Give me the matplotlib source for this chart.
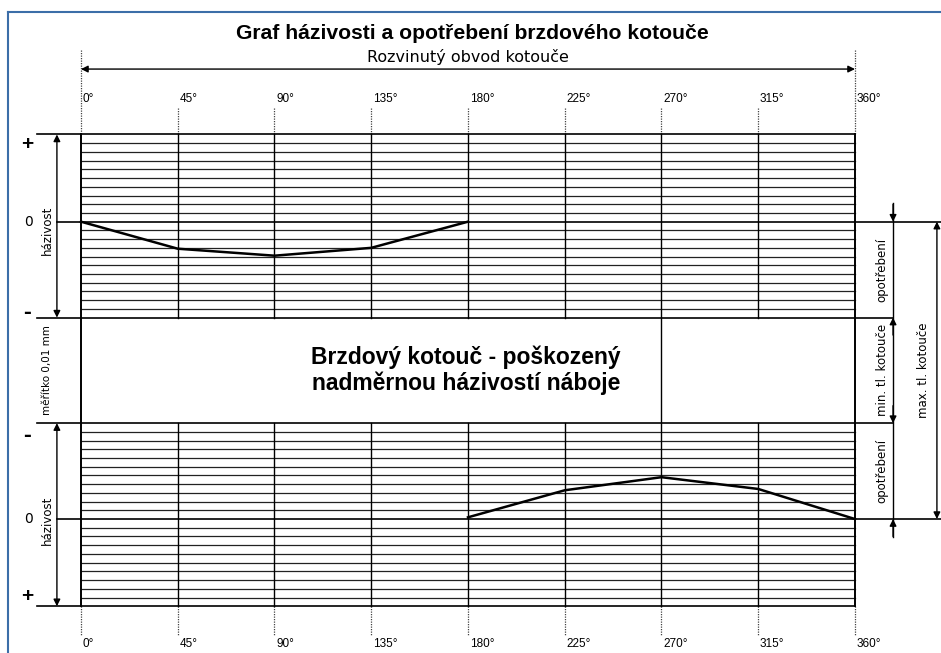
import numpy as np
import matplotlib
matplotlib.use("Agg")
import matplotlib.pyplot as plt

plt.rcParams['font.family'] = ['Liberation Sans', 'DejaVu Sans']

# data: run-out (0.01 mm) read at the marked angles
angles_top = [0, 45, 90, 135, 180]
runout_top = [0, 3.1, 3.9, 3.0, 0]
angles_bot = [180, 225, 270, 315, 360]
runout_bot = [0.2, 3.3, 4.8, 3.45, 0]
tick_angles = [0, 45, 90, 135, 180, 225, 270, 315, 360]
tick_labels = [f"{a}°" for a in tick_angles]

title = "Graf házivosti a opotřebení brzdového kotouče"
subtitle = "Rozvinutý obvod kotouče"
center_text = "Brzdový kotouč - poškozený\nnadměrnou házivostí náboje"

# layout (x in degrees, y in 0.01 mm grid units)
TOP0 = 0.0
BOT0 = -34.1
UP, DOWN = 10, 11
GAP_TOP = TOP0 - DOWN
GAP_BOT = BOT0 + DOWN
TOP_EDGE = TOP0 + UP
BOT_EDGE = BOT0 - UP
WIDE = ['DejaVu Sans']

fig = plt.figure(figsize=(9.41, 6.53), dpi=100)
ax = fig.add_axes([0, 0, 1, 1])
ax.set_xlim(-37.67, 400.0)
ax.set_ylim(-49.46, 25.42)
ax.axis("off")

grid_kw = dict(color="#222222", lw=0.9, zorder=1)
main_kw = dict(color="black", lw=1.2, zorder=3)
dot_kw = dict(color="#444444", lw=0.9, ls=(0, (1, 1)), zorder=1)

# horizontal grid lines
for y in np.arange(TOP_EDGE - 1, GAP_TOP, -1):
    if y != TOP0:
        ax.plot([0, 360], [y, y], **grid_kw)
for y in np.arange(GAP_BOT - 1, BOT_EDGE, -1):
    if abs(y - BOT0) > 0.01:
        ax.plot([0, 360], [y, y], **grid_kw)

# main horizontal lines
ax.plot([-20.5, 360], [TOP_EDGE, TOP_EDGE], **main_kw)
ax.plot([-11.2, 400], [TOP0, TOP0], **main_kw)
ax.plot([-20.5, 377.7], [GAP_TOP, GAP_TOP], **main_kw)
ax.plot([-20.5, 377.7], [GAP_BOT, GAP_BOT], **main_kw)
ax.plot([-11.2, 400], [BOT0, BOT0], **main_kw)
ax.plot([-20.5, 360], [BOT_EDGE, BOT_EDGE], **main_kw)

# vertical lines
for a in tick_angles:
    top = 19.7 if a in (0, 360) else 13.0
    ax.plot([a, a], [top, TOP_EDGE], **dot_kw)
    ax.plot([a, a], [BOT_EDGE, -47.4], **dot_kw)
    lw = 1.4 if a in (0, 360) else 1.0
    if a in (0, 270, 360):
        ax.plot([a, a], [TOP_EDGE, BOT_EDGE], color="black", lw=lw, zorder=3)
    else:
        ax.plot([a, a], [TOP_EDGE, GAP_TOP], color="black", lw=lw, zorder=3)
        ax.plot([a, a], [GAP_BOT, BOT_EDGE], color="black", lw=lw, zorder=3)

# curves
ax.plot(angles_top, TOP0 - np.array(runout_top), color="black", lw=1.8, zorder=4)
ax.plot(angles_bot, BOT0 + np.array(runout_bot), color="black", lw=1.8, zorder=4)

# degree labels
for a, lab in zip(tick_angles, tick_labels):
    ax.text(a + 0.8, 14.07, lab, fontsize=8.5, ha="left", va="center")
    ax.text(a + 0.8, -48.4, lab, fontsize=8.5, ha="left", va="center")

# titles
ax.text(182, 21.6, title, fontsize=15.2, fontweight="bold", ha="center", va="center")
ax.text(180, 18.9, subtitle, fontsize=11.5, family=WIDE, ha="center", va="center")
arr = dict(arrowstyle="<|-|>", color="black", lw=1.0, mutation_scale=10,
           shrinkA=0, shrinkB=0)
ax.annotate("", xy=(0, 17.5), xytext=(360, 17.5), arrowprops=arr)

ax.text(179, (GAP_TOP + GAP_BOT) / 2, center_text, fontsize=16.5, fontweight="bold",
        ha="center", va="center", linespacing=1.15)

# left annotations
ax.annotate("", xy=(-11.2, TOP_EDGE), xytext=(-11.2, GAP_TOP), arrowprops=arr)
ax.annotate("", xy=(-11.2, GAP_BOT), xytext=(-11.2, BOT_EDGE), arrowprops=arr)
plus_kw = dict(fontsize=15, fontweight="bold", ha="center", va="center")
minus_kw = dict(fontsize=17, fontweight="bold", ha="center", va="center")
ax.text(-25.1, 8.8, "+", **plus_kw)
ax.text(-25.1, -10.4, "-", **minus_kw)
ax.text(-25.1, -24.5, "-", **minus_kw)
ax.text(-25.1, -43.0, "+", **plus_kw)
ax.text(-24.2, TOP0, "0", fontsize=10, family=WIDE, ha="center", va="center")
ax.text(-24.2, BOT0, "0", fontsize=10, family=WIDE, ha="center", va="center")
side_kw = dict(fontsize=8.5, family=WIDE, rotation=90, ha="center", va="center",
               bbox=dict(fc="white", ec="none", pad=0.5))
ax.text(-15.8, -1.0, "házivost", **side_kw)
ax.text(-15.8, BOT0 - 0.1, "házivost", **side_kw)
ax.text(-15.8, (GAP_TOP + GAP_BOT) / 2, "měřítko 0,01 mm", fontsize=7.5,
        family=WIDE, rotation=90, ha="center", va="center")

# right annotations
ax.plot([377.7, 377.7], [2.1, -36.2], color="black", lw=1.0, zorder=2)
head = dict(arrowstyle="-|>", color="black", lw=1.0, mutation_scale=10,
            shrinkA=0, shrinkB=0)
ax.annotate("", xy=(377.7, TOP0), xytext=(377.7, TOP0 + 2), arrowprops=head)
ax.annotate("", xy=(377.7, GAP_TOP), xytext=(377.7, GAP_TOP - 2), arrowprops=head)
ax.annotate("", xy=(377.7, GAP_BOT), xytext=(377.7, GAP_BOT + 2), arrowprops=head)
ax.annotate("", xy=(377.7, BOT0), xytext=(377.7, BOT0 - 2), arrowprops=head)
ax.annotate("", xy=(398.1, TOP0), xytext=(398.1, BOT0), arrowprops=arr)
rt_kw = dict(fontsize=8.5, family=WIDE, rotation=90, ha="center", va="center")
ax.text(372.6, (TOP0 + GAP_TOP) / 2, "opotřebení", **rt_kw)
ax.text(372.6, (GAP_BOT + BOT0) / 2, "opotřebení", **rt_kw)
ax.text(372.6, (GAP_TOP + GAP_BOT) / 2, "min. tl. kotouče", **rt_kw)
ax.text(392.0, (GAP_TOP + GAP_BOT) / 2, "max. tl. kotouče",
        bbox=dict(fc="white", ec="none", pad=0.5), **rt_kw)

# blue frame (left and top edges)
ax.plot([-34.0, -34.0], [24.05, -49.46], color="#3c6ea8", lw=1.5, zorder=5)
ax.plot([-34.0, 400.0], [24.05, 24.05], color="#3c6ea8", lw=1.5, zorder=5)

fig.savefig("out.png", dpi=100)
